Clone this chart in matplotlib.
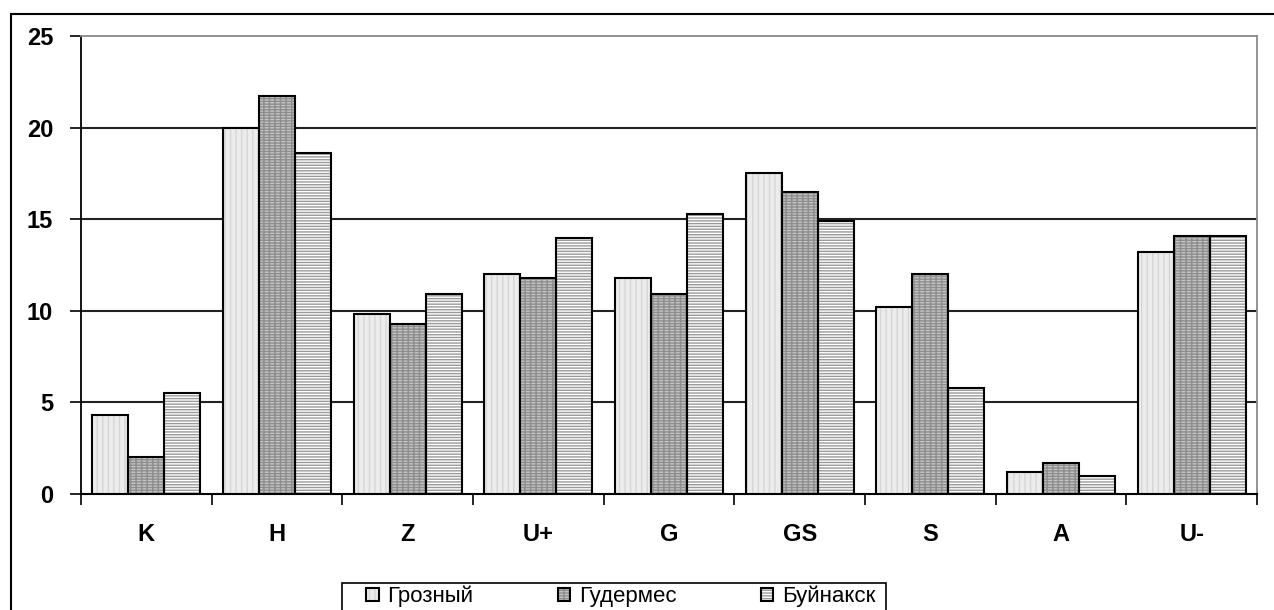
import numpy as np
import matplotlib
matplotlib.use('Agg')
import matplotlib.pyplot as plt
from matplotlib.patches import Rectangle

plt.rcParams['font.family'] = ['Liberation Sans', 'DejaVu Sans']
plt.rcParams['hatch.linewidth'] = 1.0

categories = ['K', 'H', 'Z', 'U+', 'G', 'GS', 'S', 'A', 'U-']
series_names = ['Грозный', 'Гудермес', 'Буйнакск']
grozny = [4.3, 20.0, 9.8, 12.0, 11.8, 17.5, 10.2, 1.2, 13.2]
gudermes = [2.0, 21.7, 9.3, 11.8, 10.9, 16.5, 12.0, 1.7, 14.1]
buynaksk = [5.5, 18.6, 10.9, 14.0, 15.3, 14.9, 5.8, 1.0, 14.1]
y_ticks = [0, 5, 10, 15, 20, 25]

# fill colour, hatch colour, hatch pattern
styles = [('#ececec', '#d6d6d6', '|||'),
          ('#c4c4c4', '#8e8e8e', '------|||'),
          ('#ffffff', '#9a9a9a', '------')]

fig = plt.figure(figsize=(12.74, 6.10), dpi=100)
ax = fig.add_axes([81 / 1274, 1 - 494 / 610, (1257 - 81) / 1274, (494 - 36) / 610])

x = np.arange(len(categories))
w = 0.2755
handles = []
for i, (vals, (fc, hc, hatch)) in enumerate(zip([grozny, gudermes, buynaksk], styles)):
    pos = x + (i - 1) * w
    b1 = ax.bar(pos, vals, w, color=fc, edgecolor=hc, hatch=hatch, linewidth=0, zorder=3)
    b2 = ax.bar(pos, vals, w, fill=False, edgecolor='black', linewidth=1.5, zorder=4)
    handles.append((b1[0], b2[0]))

ax.set_xlim(-0.5, len(categories) - 0.5)
ax.set_ylim(0, 25)
ax.set_yticks(y_ticks)
ax.set_xticks(x)
ax.set_xticklabels(categories)
ax.set_xticks(np.arange(len(categories) + 1) - 0.5, minor=True)
ax.tick_params(axis='x', which='major', length=0, pad=21)
ax.tick_params(axis='x', which='minor', length=8, width=1.2, direction='out')
ax.tick_params(axis='y', length=8, width=1.2, direction='out', pad=12)
for lab in ax.get_xticklabels() + ax.get_yticklabels():
    lab.set_fontsize(17)
    lab.set_fontweight('bold')

for yv in y_ticks[1:-1]:
    ax.axhline(yv, color='#222222', linewidth=1.5, zorder=1)

ax.spines['left'].set_linewidth(1.3)
ax.spines['bottom'].set_linewidth(1.5)
ax.spines['top'].set_color('#8a8a8a')
ax.spines['right'].set_color('#8a8a8a')
ax.spines['top'].set_linewidth(1.3)
ax.spines['right'].set_linewidth(1.3)

# outer chart frame and legend box, both cut off by the figure edge
fig.patches.append(Rectangle((11 / 1274, -0.05), 1.05, 1 - 14 / 610 + 0.05,
                             transform=fig.transFigure, fill=False,
                             edgecolor='black', linewidth=1.5))
fig.patches.append(Rectangle((342 / 1274, -0.05), (886 - 342) / 1274, 1 - 583 / 610 + 0.05,
                             transform=fig.transFigure, fill=False,
                             edgecolor='black', linewidth=1.2))

leg = fig.legend(handles, series_names, loc='upper center', ncol=3,
                 bbox_to_anchor=(621 / 1274, 1 - 583 / 610),
                 fontsize=16, frameon=False,
                 handlelength=0.55, handleheight=0.55, handletextpad=0.4,
                 columnspacing=3.8, borderpad=0.12, borderaxespad=0)

fig.savefig('out.png', dpi=100)
